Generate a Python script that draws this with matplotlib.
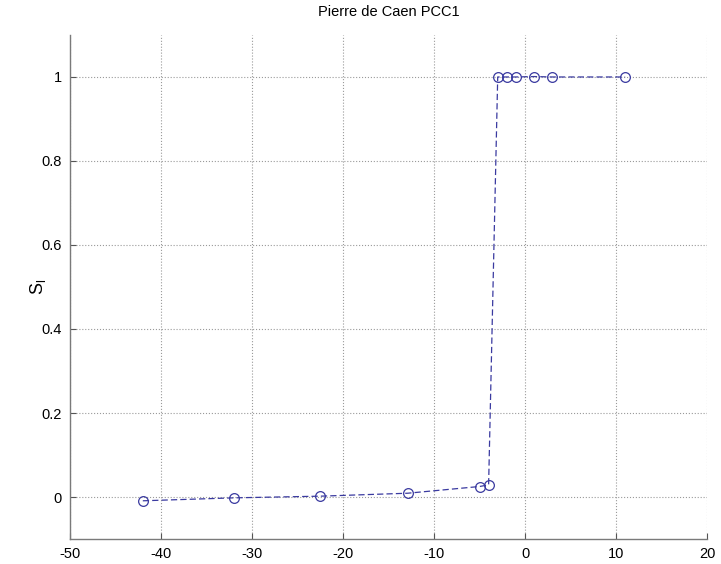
import numpy as np
import matplotlib.pyplot as plt

plt.rcParams['font.family'] = ['Liberation Sans', 'DejaVu Sans']
plt.rcParams['axes.unicode_minus'] = False

# data
x_vals = [-42.0, -32.0, -22.5, -12.9, -5.0, -4.0, -3.0, -2.0, -1.0, 1.0, 3.0, 11.0]
s_vals = [-0.009, -0.002, 0.002, 0.009, 0.025, 0.029, 1.0, 1.0, 1.0, 1.001, 1.0, 1.0]

x_ticks = [-50, -40, -30, -20, -10, 0, 10, 20]
y_ticks = [0, 0.2, 0.4, 0.6, 0.8, 1]
y_tick_labels = ['0', '0.2', '0.4', '0.6', '0.8', '1']

fig = plt.figure(figsize=(7.21, 5.64), dpi=100)
ax = fig.add_axes([0.0971, 0.0443, 0.8835, 0.8937])

ax.plot(x_vals, s_vals, linestyle='--', color='#3a3aa0', linewidth=0.9,
        marker='o', markersize=7, markerfacecolor='none',
        markeredgecolor='#3a3aa0', markeredgewidth=0.9, dashes=(5, 2.5))

ax.set_xlim(-50, 20)
ax.set_ylim(-0.1, 1.1)
ax.set_xticks(x_ticks)
ax.set_yticks(y_ticks)
ax.set_yticklabels(y_tick_labels)

ax.grid(True, linestyle=':', color='#9a9a9a', linewidth=0.8)
ax.set_axisbelow(True)
ax.spines['top'].set_visible(False)
ax.spines['right'].set_visible(False)
for s in ['left', 'bottom']:
    ax.spines[s].set_color('#7a7a7a')
    ax.spines[s].set_linewidth(1.0)
ax.tick_params(direction='in', length=4, colors='#555555', labelcolor='black',
               labelsize=10.5, pad=6)

ax.set_ylabel('$\\mathregular{S_l}$', fontsize=13)
ax.yaxis.set_label_coords(-0.035, 0.5)
ax.set_title('Pierre de Caen PCC1', fontsize=10.5, pad=14)

fig.savefig('out.png', dpi=100)
